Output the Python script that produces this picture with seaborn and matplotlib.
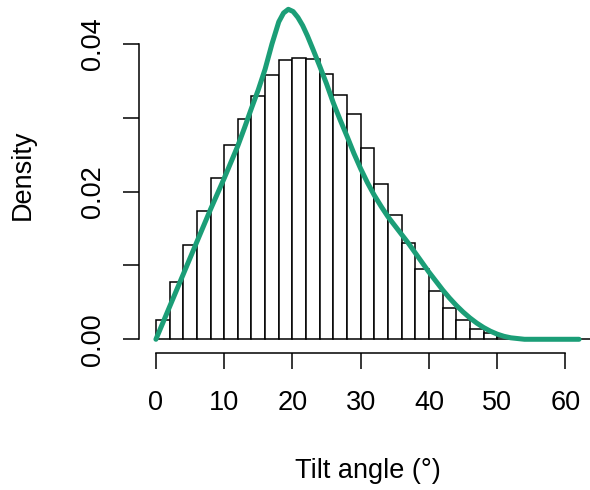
import numpy as np
import pandas as pd
import matplotlib
matplotlib.use("Agg")
import matplotlib.pyplot as plt
import seaborn as sns

# Histogram of tilt angles: bin edges every 2 degrees, heights as densities
bin_edges = list(range(0, 68, 2))
bar_density = [
    0.0026, 0.0077, 0.0128, 0.0174, 0.0219, 0.0263, 0.0298, 0.0329,
    0.0358, 0.0378, 0.0381, 0.0379, 0.0360, 0.0331, 0.0305, 0.0259,
    0.0210, 0.0168, 0.0130, 0.0095, 0.0065, 0.0042, 0.0026, 0.0014,
    0.0008, 0.0003, 0.0001, 0.0, 0.0, 0.0, 0.0, 0.0, 0.0,
]

# Smooth density curve overlaid on the histogram
curve_x = [
    0, 2, 4, 6, 8, 10, 12, 13, 14, 15, 16, 17, 18, 18.7, 19.4, 20.1,
    20.8, 21.5, 22.2, 23, 24, 25, 26, 27, 28, 29, 30, 31, 32, 33, 34,
    35, 36, 37, 38, 39, 40, 41, 42, 43, 44, 45, 46, 47, 48, 49, 50, 51,
    52, 53, 54, 62,
]
curve_y = [
    0.0, 0.0044, 0.0088, 0.0132, 0.0176, 0.0218, 0.0262, 0.0287, 0.0313,
    0.0338, 0.0366, 0.0400, 0.0430, 0.0442, 0.0447, 0.0444, 0.0436,
    0.0425, 0.0411, 0.0393, 0.0370, 0.0346, 0.0320, 0.0297, 0.0275,
    0.0252, 0.0231, 0.0212, 0.0195, 0.0180, 0.0166, 0.0154, 0.0142,
    0.0130, 0.0117, 0.0104, 0.0091, 0.0079, 0.0067, 0.0056, 0.0046,
    0.0037, 0.0029, 0.0022, 0.0016, 0.0011, 0.0007, 0.0004, 0.0002,
    0.0001, 0.0, 0.0,
]

x_ticks = [0, 10, 20, 30, 40, 50, 60]
y_ticks = [0.00, 0.01, 0.02, 0.03, 0.04]
y_tick_labels = ["0.00", "", "0.02", "", "0.04"]

sns.set_theme(style="white")
plt.rcParams["font.family"] = ["Liberation Sans", "DejaVu Sans"]

fig = plt.figure(figsize=(5.9, 4.9), dpi=100)
ax = fig.add_axes([139 / 590, (490 - 352.5) / 490, 457 / 590, 356.5 / 490])

bin_mids = [(a + b) / 2 for a, b in zip(bin_edges[:-1], bin_edges[1:])]
hist_df = pd.DataFrame({"angle": bin_mids, "density": bar_density})
sns.histplot(
    data=hist_df, x="angle", weights="density", bins=bin_edges, stat="count",
    color="white", edgecolor="black", linewidth=1.1, alpha=1, ax=ax,
)

curve_df = pd.DataFrame({"angle": curve_x, "density": curve_y})
sns.lineplot(
    data=curve_df, x="angle", y="density", color="#1b9e77", linewidth=3.6,
    solid_capstyle="round", ax=ax, zorder=5,
)

ax.set_xlim(-2.48, 64.48)
ax.set_ylim(-0.00179, 0.0465)

for side in ("top", "right"):
    ax.spines[side].set_visible(False)
ax.spines["left"].set_bounds(0, 0.04)
ax.spines["bottom"].set_bounds(0, 60)
for side in ("left", "bottom"):
    ax.spines[side].set_color("black")
    ax.spines[side].set_linewidth(1.1)

ax.set_xticks(x_ticks)
ax.set_xticklabels([str(t) for t in x_ticks])
ax.set_yticks(y_ticks)
ax.set_yticklabels(y_tick_labels, rotation=90, va="center")

ax.tick_params(axis="both", direction="out", length=11.5, width=1.1,
               color="black", labelsize=19.5, labelcolor="black")
ax.tick_params(axis="x", pad=15.5, bottom=True)
ax.tick_params(axis="y", pad=12.5, left=True)

ax.set_xlabel("Tilt angle (°)", fontsize=19.5, color="black")
ax.set_ylabel("Density", fontsize=19.5, color="black")
ax.xaxis.set_label_coords(0.5, -0.351)
ax.xaxis.label.set_va("baseline")
ax.yaxis.set_label_coords(-0.254, 0.5)
ax.yaxis.label.set_va("center")

fig.savefig("out.png", dpi=100)
